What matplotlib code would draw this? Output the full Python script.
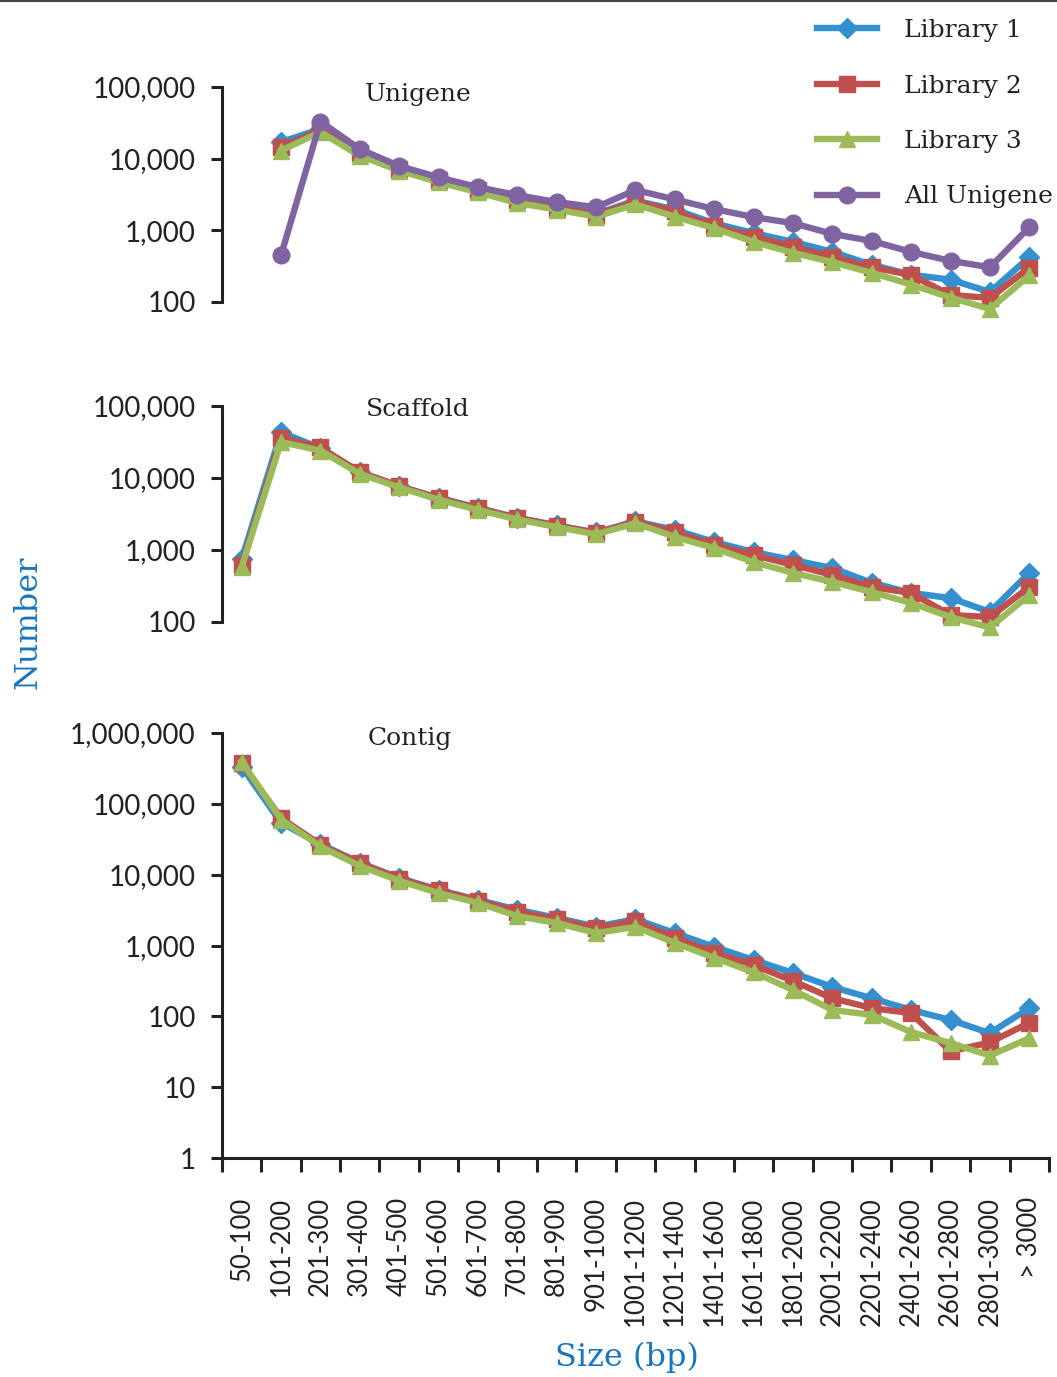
import numpy as np
import matplotlib
matplotlib.use('Agg')
import matplotlib.pyplot as plt
from matplotlib.lines import Line2D
from matplotlib.ticker import FixedLocator, FuncFormatter

# size classes
sizes = ['50-100', '101-200', '201-300', '301-400', '401-500', '501-600',
         '601-700', '701-800', '801-900', '901-1000', '1001-1200', '1201-1400',
         '1401-1600', '1601-1800', '1801-2000', '2001-2200', '2201-2400',
         '2401-2600', '2601-2800', '2801-3000', '> 3000']

nan = np.nan

# Unigene panel
uni_lib1 = [nan, 17000, 26000, 12500, 7400, 5100, 3750, 2750, 2150, 1700, 2600,
            1950, 1250, 915, 690, 500, 330, 240, 205, 138, 420]
uni_lib2 = [nan, 14500, 25000, 12000, 7200, 5000, 3650, 2650, 2080, 1650, 2500,
            1850, 1150, 820, 590, 425, 305, 238, 125, 114, 300]
uni_lib3 = [nan, 13000, 23500, 11000, 6800, 4700, 3400, 2400, 1950, 1550, 2300,
            1550, 1070, 690, 485, 360, 255, 175, 115, 80, 235]
uni_all = [nan, 450, 33000, 13600, 7900, 5500, 4000, 3100, 2480, 2100, 3650,
           2700, 1980, 1530, 1260, 890, 710, 500, 375, 305, 1100]

# Scaffold panel
sca_lib1 = [740, 43000, 26000, 12100, 7700, 5300, 3850, 2800, 2200, 1750, 2500,
            1900, 1290, 935, 725, 560, 350, 253, 215, 138, 480]
sca_lib2 = [620, 36000, 26500, 12000, 7700, 5200, 3800, 2780, 2180, 1720, 2480,
            1770, 1170, 850, 620, 450, 306, 253, 125, 117, 306]
sca_lib3 = [580, 31500, 24000, 11400, 7400, 5000, 3600, 2650, 2080, 1650, 2350,
            1520, 1060, 680, 480, 360, 260, 184, 117, 84, 237]

# Contig panel
con_lib1 = [335000, 54000, 27000, 14700, 9000, 6100, 4400, 3200, 2450, 1850, 2350,
            1500, 955, 626, 410, 260, 180, 123, 89, 58, 131]
con_lib2 = [375000, 63000, 26500, 14500, 8800, 6000, 4300, 3000, 2350, 1750, 2200,
            1280, 790, 530, 316, 180, 131, 111, 32, 43, 81]
con_lib3 = [395000, 60000, 25000, 13300, 8200, 5500, 4000, 2600, 2080, 1500, 1830,
            1090, 670, 420, 236, 123, 105, 60, 42, 28, 49]

c1 = '#3590cf'
c2 = '#c0504d'
c3 = '#9bbb59'
c4 = '#8064a2'
blue_txt = '#1a75bc'

serif = 'DejaVu Serif'
sans = 'Lato'

fig = plt.figure(figsize=(10.57, 13.77), dpi=100)

left, right = 0.210, 0.9924
ax_top = fig.add_axes([left, 0.7807, right - left, 0.1561])
ax_mid = fig.add_axes([left, 0.5483, right - left, 0.1569])
ax_bot = fig.add_axes([left, 0.1590, right - left, 0.3087])

x = np.arange(len(sizes))
lw = 4.6
ms = 11

def style(ax, ymin, ymax, bottom_axis):
    ax.set_yscale('log')
    ax.set_ylim(ymin, ymax)
    ax.set_xlim(-0.5, len(sizes) - 0.5)
    for s in ['top', 'right']:
        ax.spines[s].set_visible(False)
    ax.spines['left'].set_linewidth(2.2)
    ax.spines['left'].set_color('#222222')
    ticks = [10 ** k for k in range(int(np.log10(ymin)), int(np.log10(ymax)) + 1)]
    ax.yaxis.set_major_locator(FixedLocator(ticks))
    ax.yaxis.set_minor_locator(FixedLocator([]))
    ax.yaxis.set_major_formatter(FuncFormatter(lambda v, p: '{:,.0f}'.format(v)))
    ax.tick_params(axis='y', which='major', length=8, width=2.2, color='#222222',
                   pad=11, labelsize=20)
    for lab in ax.get_yticklabels():
        lab.set_fontfamily(sans)
        lab.set_color('#222222')
    if bottom_axis:
        ax.spines['bottom'].set_linewidth(2.2)
        ax.spines['bottom'].set_color('#222222')
        ax.set_xticks(x)
        ax.set_xticklabels(sizes, rotation=90, fontfamily=sans, fontsize=18.5,
                           color='#222222')
        ax.set_xticks(np.arange(len(sizes) + 1) - 0.5, minor=True)
        ax.tick_params(axis='x', which='major', length=0, pad=28)
        ax.tick_params(axis='x', which='minor', length=10, width=2.2, color='#222222')
    else:
        ax.spines['bottom'].set_visible(False)
        ax.set_xticks([])

# Unigene
ax_top.plot(x, uni_lib1, color=c1, lw=lw, marker='D', ms=ms - 1, label='Library 1', clip_on=False)
ax_top.plot(x, uni_lib2, color=c2, lw=lw, marker='s', ms=ms, label='Library 2', clip_on=False)
ax_top.plot(x, uni_lib3, color=c3, lw=lw, marker='^', ms=ms + 1, label='Library 3', clip_on=False)
ax_top.plot(x, uni_all, color=c4, lw=lw, marker='o', ms=ms + 1, label='All Unigene', clip_on=False)
style(ax_top, 100, 100000, False)

# Scaffold
ax_mid.plot(x, sca_lib1, color=c1, lw=lw, marker='D', ms=ms - 1, clip_on=False)
ax_mid.plot(x, sca_lib2, color=c2, lw=lw, marker='s', ms=ms, clip_on=False)
ax_mid.plot(x, sca_lib3, color=c3, lw=lw, marker='^', ms=ms + 1, clip_on=False)
style(ax_mid, 100, 100000, False)

# Contig
ax_bot.plot(x, con_lib1, color=c1, lw=lw, marker='D', ms=ms - 1, clip_on=False)
ax_bot.plot(x, con_lib2, color=c2, lw=lw, marker='s', ms=ms, clip_on=False)
ax_bot.plot(x, con_lib3, color=c3, lw=lw, marker='^', ms=ms + 1, clip_on=False)
style(ax_bot, 1, 1000000, True)

# panel titles
fig.text(418 / 1057, 1 - 94 / 1377, 'Unigene', fontfamily=serif, fontsize=18,
         color='#222222', ha='center', va='center')
fig.text(418 / 1057, 1 - 409 / 1377, 'Scaffold', fontfamily=serif, fontsize=18,
         color='#222222', ha='center', va='center')
fig.text(410 / 1057, 1 - 738 / 1377, 'Contig', fontfamily=serif, fontsize=18,
         color='#222222', ha='center', va='center')

# axis labels
fig.text(28 / 1057, 1 - 622 / 1377, 'Number', fontfamily=serif, fontsize=23,
         color=blue_txt, rotation=90, ha='center', va='center')
fig.text(627 / 1057, 1 - 1357 / 1377, 'Size (bp)', fontfamily=serif, fontsize=23,
         color=blue_txt, ha='center', va='center')

# legend
leg = fig.legend(handles=ax_top.get_lines(), loc='upper right',
                 bbox_to_anchor=(1 + 6 / 1057, 1 - 9 / 1377), frameon=False,
                 prop={'family': serif, 'size': 18}, labelspacing=1.3,
                 handlelength=2.4, handletextpad=1.1, borderaxespad=0)
for t in leg.get_texts():
    t.set_color('#222222')

# thin border line at the top edge
fig.add_artist(Line2D([0, 1], [0.999, 0.999], color='#444444', lw=1.5,
                      transform=fig.transFigure))

fig.savefig('out.png', dpi=100)
